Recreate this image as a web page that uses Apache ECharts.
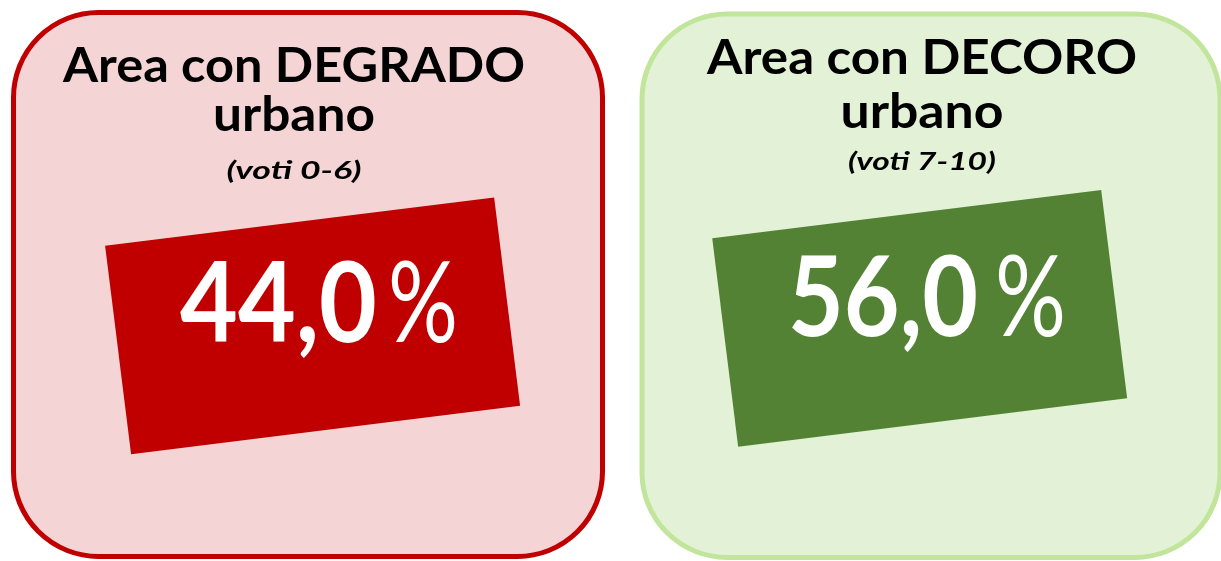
<!DOCTYPE html>
<html>
<head>
<meta charset="utf-8">
<script src="https://cdn.jsdelivr.net/npm/echarts@6/dist/echarts.min.js"></script>
<style>
  html, body { margin: 0; padding: 0; background: #fff; }
  #chart { width: 1221px; height: 561px; }
</style>
</head>
<body>
<div id="chart"></div>
<script>
// dati
var categories = ['DEGRADO', 'DECORO']
var ranges = ['voti 0-6', 'voti 7-10']
var values = [44.0, 56.0]

// colori dei due riquadri
var boxFill = ['#f4d4d5', '#e3f2d6']
var boxStroke = ['#c00000', '#c2e59c']
var tagFill = ['#c00000', '#548235']

// misura il testo per adattare la larghezza
var cvs = document.createElement('canvas').getContext('2d')
function fit (text, font, target) {
  cvs.font = font
  return target / cvs.measureText(text).width
}

function fmt (v) {
  return v.toFixed(1).replace('.', ',')
}

// posizioni (layout)
var boxes = [
  { x: 13.5, y: 12.5, w: 589, h: 544 },
  { x: 642, y: 14, w: 578, h: 543.5 }
]
var layout = [
  { cx: 294, l1: 67, w1: 462, l2: 116, w2: 162, l3: 171, w3: 135,
    tx: 312.6, ty: 325.8, nx: 377, px: 388, py: 306, pw: 70, nw: 197 },
  { cx: 922, l1: 58.5, w1: 430, l2: 112.5, w2: 163, l3: 162, w3: 148,
    tx: 919.7, ty: 318.3, nx: 978, px: 995, py: 300, pw: 71, nw: 190 }
]

var titleFont = 'bold 47px Lato'
var subFont = 'italic bold 24px Lato'
var numFont = 'bold 112px Lato'
var pctFont = 'normal 112px Lato'

function txt (x, y, text, font, w, color, align, weight, style, size) {
  return {
    type: 'text',
    x: x,
    y: y,
    scaleX: fit(text, font, w),
    style: {
      text: text,
      fill: color,
      fontWeight: weight,
      fontStyle: style,
      fontSize: size,
      fontFamily: 'Lato',
      align: align,
      verticalAlign: 'middle'
    }
  }
}

var elements = []
categories.forEach(function (cat, i) {
  var b = boxes[i]
  var L = layout[i]
  elements.push({
    type: 'rect',
    shape: { x: b.x, y: b.y, width: b.w, height: b.h, r: 85 },
    style: { fill: boxFill[i], stroke: boxStroke[i], lineWidth: 5 }
  })
  elements.push(txt(L.cx, L.l1, 'Area con ' + cat, titleFont, L.w1, '#000', 'center', 'bold', 'normal', 47))
  elements.push(txt(L.cx, L.l2, 'urbano', titleFont, L.w2, '#000', 'center', 'bold', 'normal', 47))
  elements.push(txt(L.cx, L.l3, '(' + ranges[i] + ')', subFont, L.w3, '#000', 'center', 'bold', 'italic', 24))
  elements.push({
    type: 'rect',
    x: L.tx,
    y: L.ty,
    rotation: 7.1 * Math.PI / 180,
    shape: { x: -196, y: -105, width: 392, height: 210 },
    style: { fill: tagFill[i] }
  })
  elements.push(txt(L.nx, L.py, fmt(values[i]), numFont, L.nw, '#fff', 'right', 'bold', 'normal', 112))
  elements.push(txt(L.px, L.py, '%', pctFont, L.pw, '#fff', 'left', 'normal', 'normal', 112))
})

var chart = echarts.init(document.getElementById('chart'))
chart.setOption({
  backgroundColor: '#ffffff',
  animation: false,
  graphic: { elements: elements }
})
</script>
</body>
</html>
